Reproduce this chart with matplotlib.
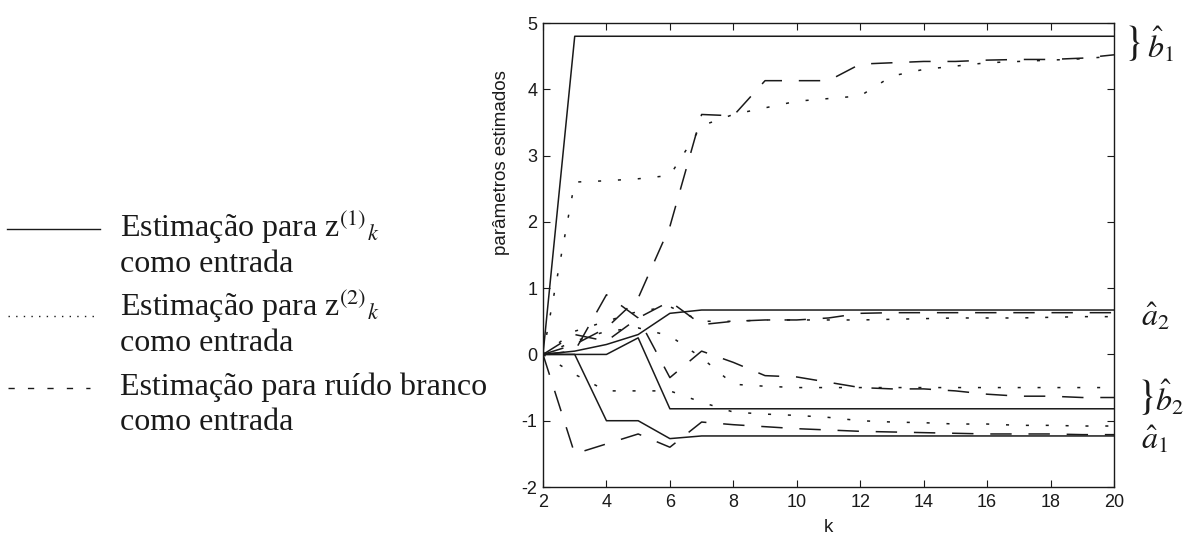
import numpy as np
import matplotlib
matplotlib.use("Agg")
import matplotlib.pyplot as plt

plt.rcParams["mathtext.fontset"] = "stix"
plt.rcParams["axes.unicode_minus"] = False

# instantes k
k = np.arange(2, 21)

# entrada z(1)_k (linha cheia)
b1_z1 = [0.00, 4.80, 4.80, 4.80, 4.80, 4.80, 4.80, 4.80, 4.80, 4.80, 4.80, 4.80, 4.80, 4.80, 4.80, 4.80, 4.80, 4.80, 4.80]
a2_z1 = [0.00, 0.05, 0.15, 0.30, 0.62, 0.67, 0.67, 0.67, 0.67, 0.67, 0.67, 0.67, 0.67, 0.67, 0.67, 0.67, 0.67, 0.67, 0.67]
b2_z1 = [0.00, 0.00, 0.00, 0.25, -0.82, -0.82, -0.82, -0.82, -0.82, -0.82, -0.82, -0.82, -0.82, -0.82, -0.82, -0.82, -0.82, -0.82, -0.82]
a1_z1 = [0.00, 0.00, -1.00, -1.00, -1.27, -1.23, -1.23, -1.23, -1.23, -1.23, -1.23, -1.23, -1.23, -1.23, -1.23, -1.23, -1.23, -1.23, -1.23]

# entrada z(2)_k (pontilhado)
b1_z2 = [0.00, 2.60, 2.62, 2.65, 2.70, 3.45, 3.62, 3.72, 3.82, 3.86, 3.90, 4.20, 4.30, 4.35, 4.40, 4.42, 4.44, 4.46, 4.50]
a2_z2 = [0.00, 0.35, 0.50, 0.65, 0.72, 0.50, 0.50, 0.52, 0.52, 0.52, 0.52, 0.53, 0.54, 0.55, 0.55, 0.55, 0.56, 0.57, 0.57]
b2_z2 = [0.00, 0.20, 0.35, 0.40, 0.28, -0.05, -0.45, -0.48, -0.50, -0.50, -0.50, -0.50, -0.50, -0.50, -0.50, -0.50, -0.50, -0.50, -0.50]
a1_z2 = [0.00, -0.30, -0.55, -0.55, -0.55, -0.72, -0.87, -0.90, -0.92, -0.95, -1.00, -1.02, -1.03, -1.05, -1.05, -1.07, -1.07, -1.08, -1.08]

# entrada ruido branco (tracejado)
b1_wn = [0.00, 0.15, 0.40, 0.85, 1.93, 3.62, 3.60, 4.13, 4.13, 4.13, 4.38, 4.40, 4.42, 4.42, 4.44, 4.45, 4.45, 4.47, 4.52]
a2_wn = [0.00, 0.30, 0.20, 0.55, 0.80, 0.45, 0.50, 0.52, 0.52, 0.55, 0.62, 0.63, 0.63, 0.63, 0.63, 0.63, 0.63, 0.63, 0.63]
b2_wn = [0.00, 0.05, 0.90, 0.55, -0.35, 0.05, -0.12, -0.32, -0.34, -0.42, -0.50, -0.52, -0.52, -0.55, -0.60, -0.63, -0.63, -0.65, -0.65]
a1_wn = [0.00, -1.50, -1.35, -1.20, -1.40, -1.02, -1.06, -1.09, -1.12, -1.14, -1.16, -1.17, -1.18, -1.19, -1.20, -1.20, -1.20, -1.21, -1.21]

x_ticks = [2, 4, 6, 8, 10, 12, 14, 16, 18, 20]
y_ticks = [-2, -1, 0, 1, 2, 3, 4, 5]

legend_lines = ["Estimação para z$^{(1)}{}_{k}$",
                "Estimação para z$^{(2)}{}_{k}$",
                "Estimação para ruído branco"]

W, H = 1194, 536
fig = plt.figure(figsize=(W / 100, H / 100), dpi=100)

# camada em pixels para legenda e rotulos dos parametros
lax = fig.add_axes([0, 0, 1, 1])
lax.set_xlim(0, W)
lax.set_ylim(H, 0)
lax.axis("off")

ax = fig.add_axes([543 / W, 1 - 487 / H, 571 / W, 464 / H])

ink = "#1a1a1a"
solid = dict(color=ink, lw=1.1, ls="-")
dotted = dict(color=ink, lw=1.1, ls=(0, (2, 11)))
dashed = dict(color=ink, lw=1.1, ls=(0, (14, 11)))

for series in (b1_z1, a2_z1, b2_z1, a1_z1):
    ax.plot(k, series, **solid)
for series in (b1_z2, a2_z2, b2_z2, a1_z2):
    ax.plot(k, series, **dotted)
for series in (b1_wn, a2_wn, b2_wn, a1_wn):
    ax.plot(k, series, **dashed)

ax.set_xlim(2, 20)
ax.set_ylim(-2, 5)
ax.set_xticks(x_ticks)
ax.set_yticks(y_ticks)
ax.tick_params(direction="in", top=True, right=True, length=5, width=0.8,
               labelsize=13, colors=ink)
ax.tick_params(axis="x", pad=5)
ax.tick_params(axis="y", pad=4)
for lbl in ax.get_xticklabels() + ax.get_yticklabels():
    lbl.set_fontfamily("Liberation Sans")
for sp in ax.spines.values():
    sp.set_linewidth(1.0)
    sp.set_color(ink)

ax.text(-0.072, 0.70, "parâmetros estimados", rotation=90, ha="center", va="center",
        transform=ax.transAxes, fontsize=13.5, family="Liberation Sans", color=ink)
ax.text(0.5, -0.088, "k", ha="center", va="center", transform=ax.transAxes,
        fontsize=13.5, family="Liberation Sans", color=ink)

# legenda a esquerda
serif = dict(family="Liberation Serif", fontsize=23, color=ink)
lax.plot([7, 100], [229, 229], color=ink, lw=1.0)
lax.plot([8, 98], [316, 316], color=ink, lw=1.0, ls=(0, (1, 4.5)))
lax.plot([8, 90], [388, 388], color=ink, lw=1.0, ls=(0, (4.5, 9.5)))
for y0, line in zip([237, 316, 395], legend_lines):
    lax.text(120, y0, line, va="baseline", ha="left", **serif)
    lax.text(120, y0 + 35, "como entrada", va="baseline", ha="left", **serif)

# rotulos dos parametros a direita
math = dict(fontsize=23, color=ink, va="center", ha="left")
lax.text(1132, 42, r"$\}$", fontsize=30, color=ink, va="center", ha="center")
lax.text(1147, 45, r"$\hat{b}_1$", **math)
lax.text(1141, 317, r"$\hat{a}_2$", **math)
lax.text(1145, 396, r"$\}$", fontsize=30, color=ink, va="center", ha="center")
lax.text(1155, 398, r"$\hat{b}_2$", **math)
lax.text(1141, 440, r"$\hat{a}_1$", **math)

fig.savefig("out.png", dpi=100)
